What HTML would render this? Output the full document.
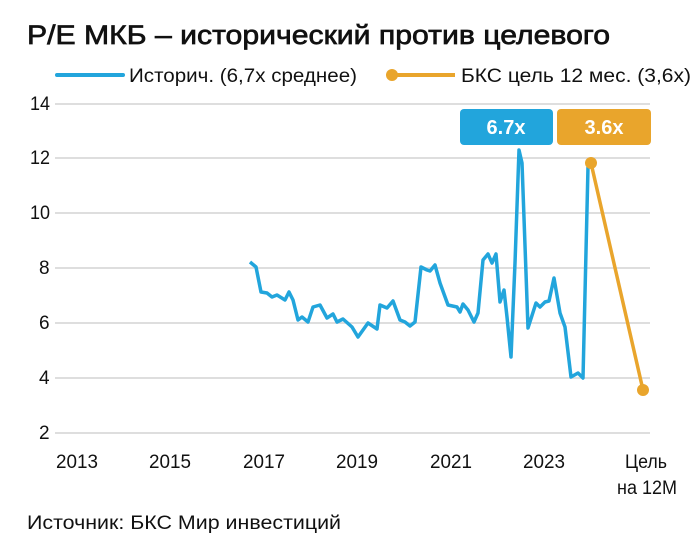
<!DOCTYPE html>
<html><head><meta charset="utf-8"><style>
body{margin:0;background:#fff;width:700px;height:552px;overflow:hidden}
svg{display:block;font-family:"Liberation Sans","Noto Sans CJK SC",sans-serif}
</style></head><body>
<svg width="700" height="552" viewBox="0 0 700 552">
<text x="27" y="44" font-size="27" fill="#111" stroke="#111" stroke-width="0.7" textLength="583" lengthAdjust="spacingAndGlyphs">P/E МКБ – исторический против целевого</text>
<line x1="57" y1="75" x2="123" y2="75" stroke="#22a5dc" stroke-width="4" stroke-linecap="round"/>
<text x="129" y="82" font-size="19" fill="#111" textLength="228" lengthAdjust="spacingAndGlyphs">Историч. (6,7x среднее)</text>
<line x1="392" y1="75" x2="455" y2="75" stroke="#e9a52c" stroke-width="4"/>
<circle cx="392" cy="75" r="6" fill="#e9a52c"/>
<text x="461" y="82" font-size="19" fill="#111" textLength="230" lengthAdjust="spacingAndGlyphs">БКС цель 12 мес. (3,6x)</text>
<g stroke="#d4d4d4" stroke-width="1.5">
<line x1="55" y1="104" x2="650" y2="104"/><line x1="55" y1="158" x2="650" y2="158"/><line x1="55" y1="213" x2="650" y2="213"/><line x1="55" y1="268" x2="650" y2="268"/><line x1="55" y1="323" x2="650" y2="323"/><line x1="55" y1="378" x2="650" y2="378"/><line x1="55" y1="433" x2="650" y2="433"/>
</g>
<g font-size="19" fill="#111">
<text x="30" y="110" textLength="20" lengthAdjust="spacingAndGlyphs">14</text><text x="30" y="164" textLength="20" lengthAdjust="spacingAndGlyphs">12</text><text x="30" y="219" textLength="20" lengthAdjust="spacingAndGlyphs">10</text><text x="39" y="274">8</text><text x="39" y="329">6</text><text x="39" y="384">4</text><text x="39" y="439">2</text>
</g>
<g font-size="19" fill="#111">
<text x="56" y="468" textLength="42" lengthAdjust="spacingAndGlyphs">2013</text>
<text x="149" y="468" textLength="42" lengthAdjust="spacingAndGlyphs">2015</text>
<text x="243" y="468" textLength="42" lengthAdjust="spacingAndGlyphs">2017</text>
<text x="336" y="468" textLength="42" lengthAdjust="spacingAndGlyphs">2019</text>
<text x="430" y="468" textLength="42" lengthAdjust="spacingAndGlyphs">2021</text>
<text x="523" y="468" textLength="42" lengthAdjust="spacingAndGlyphs">2023</text>
<text x="625" y="468" textLength="42" lengthAdjust="spacingAndGlyphs">Цель</text>
<text x="617" y="494" textLength="60" lengthAdjust="spacingAndGlyphs">на 12M</text>
</g>
<text x="27" y="529" font-size="19" fill="#111" textLength="314" lengthAdjust="spacingAndGlyphs">Источник: БКС Мир инвестиций</text>
<polyline fill="none" stroke="#22a5dc" stroke-width="3.5" stroke-linejoin="round" points="250,262 256,267 261,292 267,293 272,297 277,295 285,300 289,292 293,300 298,320 302,317 308,322 313,307 320,305 327,318 333,314 337,322 343,319 352,327 358,337 368,323 377,329 380,305 387,308 393,301 400,320 405,322 410,326 415,322 421,267 427,270 430,271 435,265 440,283 448,305 457,307 460,312 463,304 468,310 474,322 478,313 483,260 488,254 492,263 496,254 500,302 504,290 507,317 511,357 515,263 519,150 522,163 528,328 536,303 540,307 545,302 549,301 554,278 560,313 565,327 571,377 578,373 583,378 588,167"/>
<line x1="591" y1="163" x2="643" y2="390" stroke="#e9a52c" stroke-width="3.5"/>
<circle cx="591" cy="163" r="6" fill="#e9a52c"/>
<circle cx="643" cy="390" r="6" fill="#e9a52c"/>
<rect x="460" y="109" width="93" height="36" rx="4" fill="#22a5dc"/>
<rect x="557" y="109" width="94" height="36" rx="4" fill="#e9a52c"/>
<text x="506" y="134" font-size="20" font-weight="bold" fill="#fff" text-anchor="middle">6.7x</text>
<text x="604" y="134" font-size="20" font-weight="bold" fill="#fff" text-anchor="middle">3.6x</text>
</svg>
</body></html>
